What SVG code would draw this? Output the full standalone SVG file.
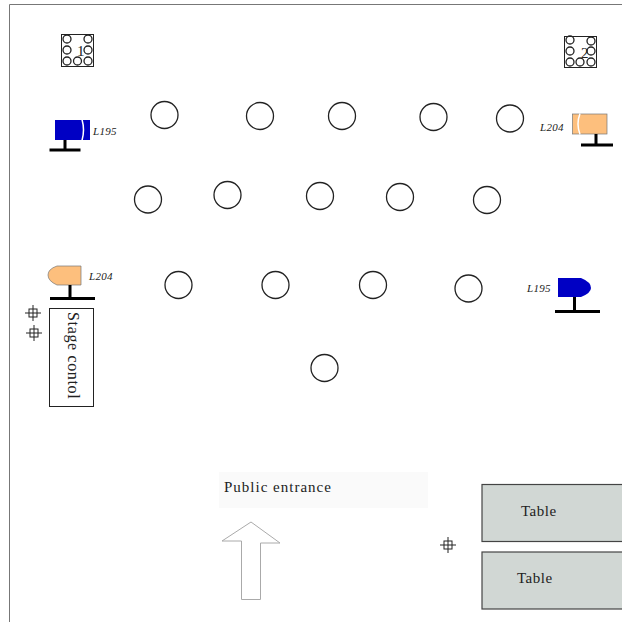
<svg xmlns="http://www.w3.org/2000/svg" width="622" height="622" viewBox="0 0 622 622">
<style>
.c{fill:#fff;stroke:#222;stroke-width:1.3}
.s{fill:none;stroke:#222;stroke-width:1.3}
.k{fill:none;stroke:#222;stroke-width:1}
.p{stroke:#000;stroke-width:3;fill:none}
.t{font-family:"Liberation Serif",serif;fill:#222}
.l{font-family:"Liberation Serif",serif;font-style:italic;font-size:11px;fill:#222;letter-spacing:.3px}
.tb{fill:#d1d7d4;stroke:#444;stroke-width:1.2}
.w{fill:none;stroke:#fff;stroke-width:1.5}
.o{fill:#fdbf7d;stroke:#777;stroke-width:.7}
.u{fill:#0000c4}
</style>
<defs>
<g id="sm"><circle class="s" cx="0" cy="0" r="4"/></g>
<g id="cross"><rect class="k" x="-4" y="-4" width="8" height="8"/><path class="k" d="M0,-8V8M-8,0H8"/></g>
</defs>
<path d="M9.500,622V4.500H622" fill="none" stroke="#777" stroke-width="1"/>
<g id="box1">
<rect x="61.500" y="34.500" width="32" height="32" fill="#fff" stroke="#222"/>
<use href="#sm" x="67" y="39"/><use href="#sm" x="88" y="39"/><use href="#sm" x="67" y="50"/><use href="#sm" x="88" y="50"/><use href="#sm" x="67" y="61"/><use href="#sm" x="77.500" y="61"/><use href="#sm" x="88" y="61"/>
<text class="t" x="77" y="56" font-size="15">1</text>
</g>
<g id="box2">
<rect x="564.500" y="36.500" width="32" height="31" fill="#fff" stroke="#222"/>
<use href="#sm" x="570" y="40"/><use href="#sm" x="591" y="41"/><use href="#sm" x="570" y="51"/><use href="#sm" x="591" y="51"/><use href="#sm" x="570" y="62"/><use href="#sm" x="580" y="62"/><use href="#sm" x="591" y="62"/>
<text class="t" x="581" y="58" font-size="15">2</text>
</g>
<g id="seats">
<circle class="c" cx="164.500" cy="115" r="13.500"/>
<circle class="c" cx="260" cy="116" r="13.500"/>
<circle class="c" cx="342" cy="116" r="13.500"/>
<circle class="c" cx="433.500" cy="117" r="13.500"/>
<circle class="c" cx="510" cy="118.500" r="13.500"/>
<circle class="c" cx="148" cy="199.500" r="13.500"/>
<circle class="c" cx="227.500" cy="195" r="13.500"/>
<circle class="c" cx="320" cy="196" r="13.500"/>
<circle class="c" cx="400" cy="197" r="13.500"/>
<circle class="c" cx="487" cy="200" r="13.500"/>
<circle class="c" cx="178.500" cy="285" r="13.500"/>
<circle class="c" cx="275.500" cy="285" r="13.500"/>
<circle class="c" cx="373" cy="285" r="13.500"/>
<circle class="c" cx="468.500" cy="288.500" r="13.500"/>
<circle class="c" cx="324.500" cy="368" r="13.500"/>
</g>
<g id="light-l195-top">
<rect class="u" x="55" y="120" width="35" height="20"/>
<path class="w" d="M82,119.500Q85,130 82,140.500"/>
<path class="p" d="M65,140V150M49.500,150H80.500"/>
<text class="l" x="93" y="135">L195</text>
</g>
<g id="light-l204-top">
<rect class="o" x="572.500" y="114" width="34.500" height="20"/>
<path class="w" d="M580,113.500Q576,124 580,134.500"/>
<path class="p" d="M596,134V145M581,145H613"/>
<text class="l" x="540" y="131">L204</text>
</g>
<g id="light-l204-left">
<path class="o" d="M81,266V285H57Q48,281 48,275Q48,269 57,266Z"/>
<path class="p" d="M70,285V298M50,298.500H95"/>
<text class="l" x="89" y="280">L204</text>
</g>
<g id="light-l195-right">
<path class="u" d="M558,278H581Q591,282 591,288Q591,293 581,297H558Z"/>
<path class="p" d="M574.500,297V311M555,311.500H600"/>
<text class="l" x="527" y="292">L195</text>
</g>
<g id="stage-control">
<rect x="49.500" y="308.500" width="44" height="98" fill="#fff" stroke="#222"/>
<text class="t" transform="translate(67.500,312) rotate(90)" font-size="16" letter-spacing=".65">Stage contol</text>
</g>
<g id="marks">
<use href="#cross" x="33" y="313"/>
<use href="#cross" x="34" y="333"/>
<use href="#cross" x="448" y="545"/>
</g>
<g id="public-entrance">
<rect x="219" y="472" width="209" height="36" fill="#fafafa"/>
<text class="t" x="224" y="492" font-size="15" letter-spacing="1">Public entrance</text>
<path d="M222,541L251,522L280,543H260.500V599.500H241.500V541Z" fill="#fff" stroke="#aaa" stroke-width="1"/>
</g>
<g id="table-1">
<rect class="tb" x="482" y="484.500" width="145" height="57"/>
<text class="t" x="521" y="516" font-size="15" letter-spacing=".5">Table</text>
</g>
<g id="table-2">
<rect class="tb" x="482" y="552" width="145" height="57"/>
<text class="t" x="517" y="583" font-size="15" letter-spacing=".5">Table</text>
</g>
</svg>
